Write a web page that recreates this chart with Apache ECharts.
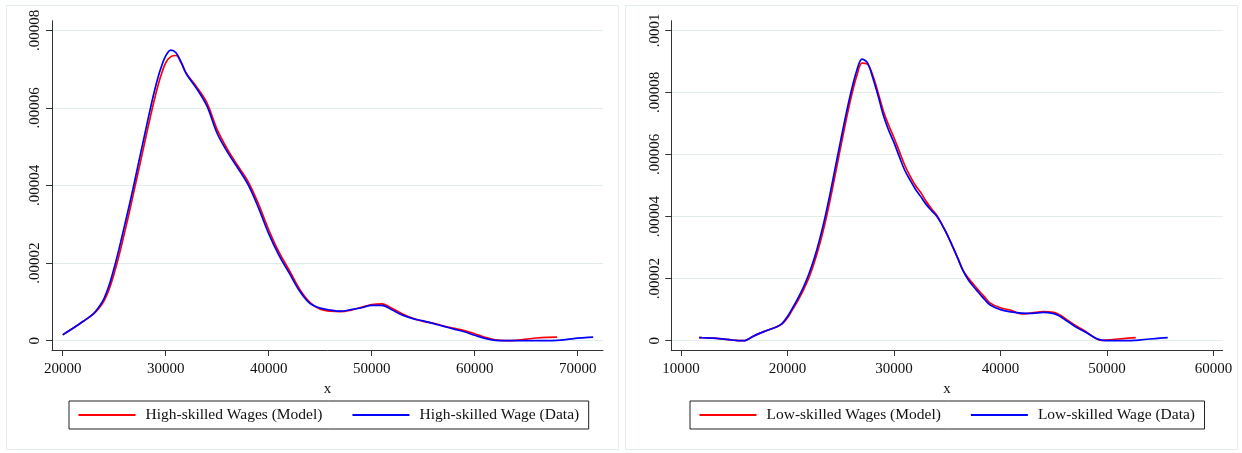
<!DOCTYPE html>
<html>
<head>
<meta charset="utf-8">
<script src="https://cdn.jsdelivr.net/npm/echarts@6/dist/echarts.min.js"></script>
<style>
html,body{margin:0;padding:0;background:#fff;}
#chart{width:1242px;height:453px;}
</style>
</head>
<body>
<div id="chart"></div>
<script>
// ---- data (densities stored in units of 1e-6) ----
const UNIT = 1e-6;

const highNames = ['High-skilled Wages (Model)', 'High-skilled Wage (Data)'];
const lowNames = ['Low-skilled Wages (Model)', 'Low-skilled Wage (Data)'];

const highX = [20000,21000,22000,23000,23500,24000,24500,25000,25500,26000,26500,27000,27500,28000,28500,29000,29500,30000,30500,31000,31500,32000,33000,34000,35000,36000,37000,38000,39000,40000,41000,42000,43000,44000,45000,46000,47000,48000,49000,50000,51000,52000,53000,54000,55000,56000,57000,58000,59000,60000,61000,62000,63000,64000,65000,66000,67000,68000,69000,70000,71000,71500];
const highModel = [1.5,3.2,5.0,6.9,8.3,10.2,13.2,17.4,22.3,27.8,33.5,39.5,45.5,51.6,57.6,63.2,68.0,71.6,73.2,73.5,71.6,68.9,65.4,61.3,54.4,49.3,45.1,41.0,35.3,28.6,22.8,18.1,13.3,9.9,8.1,7.6,7.5,7.9,8.6,9.3,9.5,8.3,6.9,5.8,5.0,4.5,3.8,3.2,2.6,1.8,0.9,0.2,0,0.1,0.4,0.7,0.85,0.9,null,null,null,null];
const highData = [1.5,3.2,5.0,7.0,8.6,10.8,14.2,18.8,24.0,29.6,35.3,41.3,47.5,53.6,59.7,65.3,70.0,73.4,74.9,74.2,71.8,68.8,65.0,60.5,53.4,48.6,44.5,40.2,34.3,27.6,22.0,17.4,12.8,9.6,8.4,7.9,7.6,8.0,8.5,9.1,9.1,7.9,6.6,5.7,5.1,4.4,3.7,3.0,2.3,1.4,0.6,0.1,0,0,0,0,0,0.1,0.35,0.65,0.85,0.9];

const lowX = [11700,12000,13000,14000,15000,15500,16000,16500,17000,18000,19000,19500,20000,20500,21000,21500,22000,22500,23000,23500,24000,24500,25000,25500,26000,26500,27000,27500,28000,28500,29000,29500,30000,30500,31000,31500,32000,32500,33000,33500,34000,34500,35000,35500,36000,36500,37000,37500,38000,38500,39000,40000,41000,42000,43000,44000,45000,45500,46000,47000,48000,49000,49500,50000,51000,52000,52700,53000,54000,55000,55700];
const lowModel = [1.0,0.95,0.8,0.5,0.15,0,0.05,0.9,1.8,3.2,4.5,5.4,7.4,10.2,13.1,16.4,20.2,25.0,30.8,37.5,45.3,53.8,62.5,71.0,78.8,85.3,89.4,89.1,85.5,80.0,74.0,69.4,65.4,61.0,56.6,53.1,50.1,47.8,45.0,42.6,40.5,37.5,34.1,30.3,26.4,22.6,20.1,18.0,16.0,14.1,12.2,10.6,9.8,8.6,9.0,9.4,9.1,8.4,7.3,5.0,3.0,0.6,0.1,0.2,0.55,0.85,1.0,null,null,null,null];
const lowData = [1.0,0.95,0.8,0.5,0.15,0,0.05,0.9,1.8,3.2,4.5,5.6,7.8,10.7,13.8,17.3,21.4,26.4,32.4,39.4,47.4,56.0,64.6,73.0,80.6,87.0,90.7,89.6,84.8,79.0,72.6,67.8,63.8,59.3,55.0,51.8,48.9,46.5,44.0,42.0,40.2,37.4,34.2,30.4,26.5,22.4,19.5,17.3,15.3,13.3,11.6,10.0,9.3,8.9,8.8,9.1,8.7,8.0,6.9,4.6,2.7,0.7,0.2,0.05,0,0,0.1,0.2,0.55,0.85,1.0];

// ---- tick values / labels ----
const highTicksX = [20000,30000,40000,50000,60000,70000];
const lowTicksX = [10000,20000,30000,40000,50000,60000];
const highTicksY = [0,0.00002,0.00004,0.00006,0.00008];
const highTickLabelsY = ['0','.00002','.00004','.00006','.00008'];
const lowTicksY = [0,0.00002,0.00004,0.00006,0.00008,0.0001];
const lowTickLabelsY = ['0','.00002','.00004','.00006','.00008','.0001'];
const xTitle = 'x';

// ---- build ----
const FONT = "'Liberation Serif','Times New Roman','DejaVu Serif',serif";
const AXIS_COLOR = '#333';
const GRID_COLOR = '#e3ecec';
const TEXT_COLOR = '#111';

function pairs(xs, ys) {
  const out = [];
  for (let i = 0; i < xs.length; i++) {
    if (ys[i] !== null && ys[i] !== undefined) out.push([xs[i], ys[i] * UNIT]);
  }
  return out;
}
function labelFrom(ticks, labels) {
  return function (v) {
    for (let i = 0; i < ticks.length; i++) {
      if (Math.abs(ticks[i] - v) < 1e-9) return labels[i];
    }
    return '';
  };
}

function xAxisCfg(gridIndex, min, max, ticks) {
  return {
    type: 'value', gridIndex, min, max,
    name: xTitle, nameLocation: 'middle', nameGap: 26,
    nameTextStyle: {fontFamily: FONT, fontSize: 15, color: TEXT_COLOR},
    axisLine: {show: true, onZero: false, lineStyle: {color: AXIS_COLOR, width: 1}},
    axisTick: {show: true, inside: false, length: 6, customValues: ticks, lineStyle: {color: AXIS_COLOR}},
    axisLabel: {show: true, customValues: ticks, margin: 12, fontFamily: FONT, fontSize: 15, color: TEXT_COLOR,
      formatter: v => String(v)},
    splitLine: {show: false}
  };
}
function yAxisCfg(gridIndex, min, max, ticks, labels) {
  return {
    type: 'value', gridIndex, min, max,
    axisLine: {show: true, onZero: false, lineStyle: {color: AXIS_COLOR, width: 1}},
    axisTick: {show: true, inside: false, length: 6, customValues: ticks, lineStyle: {color: AXIS_COLOR}},
    axisLabel: {show: true, customValues: ticks, rotate: 90, margin: 9, fontFamily: FONT, fontSize: 15, color: TEXT_COLOR,
      formatter: labelFrom(ticks, labels)},
    splitLine: {show: true, lineStyle: {color: GRID_COLOR, width: 1.2}}
  };
}
function lineSeries(name, color, xi, data) {
  return {
    type: 'line', name, xAxisIndex: xi, yAxisIndex: xi, data,
    smooth: 0.35, symbol: 'none', showSymbol: false,
    lineStyle: {color, width: 1.7}, itemStyle: {color},
    emphasis: {disabled: true}, silent: true, animation: false
  };
}
function legendCfg(names, left) {
  return {
    data: names, left, top: 401, orient: 'horizontal',
    icon: 'rect', itemWidth: 57, itemHeight: 1.8, itemGap: 30,
    padding: [6, 9.5],
    borderColor: '#222', borderWidth: 1, borderRadius: 0,
    backgroundColor: '#fff',
    selectedMode: false,
    textStyle: {fontFamily: FONT, fontSize: 15.5, color: TEXT_COLOR, padding: [0, 0, 0, 5], lineHeight: 16}
  };
}

const chart = echarts.init(document.getElementById('chart'), null, {renderer: 'canvas'});
chart.setOption({
  animation: false,
  backgroundColor: '#fff',
  graphic: [
    {type: 'rect', z: -10, silent: true, shape: {x: 6.5, y: 5.5, width: 612, height: 444}, style: {fill: '#fff', stroke: '#e4eded', lineWidth: 1}},
    {type: 'rect', z: -10, silent: true, shape: {x: 625.5, y: 5.5, width: 612, height: 444}, style: {fill: '#fff', stroke: '#e4eded', lineWidth: 1}}
  ],
  grid: [
    {left: 52, top: 20.7, width: 551, height: 329.3, outerBoundsMode: 'none', containLabel: false},
    {left: 671.3, top: 20.7, width: 551.4, height: 329.3, outerBoundsMode: 'none', containLabel: false}
  ],
  xAxis: [
    xAxisCfg(0, 18961, 72456, highTicksX),
    xAxisCfg(1, 9089, 60864, lowTicksX)
  ],
  yAxis: [
    yAxisCfg(0, -0.000002397, 0.000082474, highTicksY, highTickLabelsY),
    yAxisCfg(1, -0.000002996, 0.000103093, lowTicksY, lowTickLabelsY)
  ],
  legend: [legendCfg(highNames, 69), legendCfg(lowNames, 690)],
  series: [
    lineSeries(highNames[0], '#ff0000', 0, pairs(highX, highModel)),
    lineSeries(highNames[1], '#0000ff', 0, pairs(highX, highData)),
    lineSeries(lowNames[0], '#ff0000', 1, pairs(lowX, lowModel)),
    lineSeries(lowNames[1], '#0000ff', 1, pairs(lowX, lowData))
  ]
});
</script>
</body>
</html>
